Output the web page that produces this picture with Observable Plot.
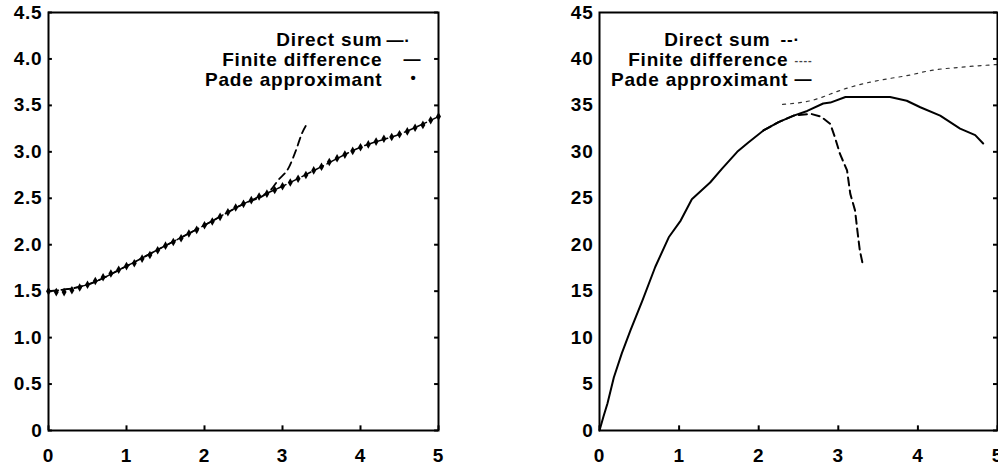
<!DOCTYPE html>
<html>
<head>
<meta charset="utf-8">
<script src="https://cdn.jsdelivr.net/npm/d3@7"></script>
<script src="https://cdn.jsdelivr.net/npm/@observablehq/plot@0.6"></script>
<style>
  html, body { margin: 0; padding: 0; background: #fff; }
  #wrap { position: relative; width: 998px; height: 468px; overflow: hidden; }
  #left { position: absolute; left: 0; top: 0; }
  #right { position: absolute; left: 540px; top: 0; }
  svg text { font-family: "Liberation Sans", Arial, sans-serif; font-weight: bold; letter-spacing: 0.8px; }
</style>
</head>
<body>
<div id="wrap"><div id="left"></div><div id="right"></div></div>
<script>
// ---------- data: shared ----------
const xTicks = [0, 1, 2, 3, 4, 5];
const yTicksLeft = [0, 0.5, 1.0, 1.5, 2.0, 2.5, 3.0, 3.5, 4.0, 4.5];
const yTicksRight = [0, 5, 10, 15, 20, 25, 30, 35, 40, 45];
const legendLabels = ["Direct sum", "Finite difference", "Pade approximant"];

// ---------- data: left panel ----------
// Pade approximant (markers)
const padeLeftX = [0,0.1,0.2,0.3,0.4,0.5,0.6,0.7,0.8,0.9,1.0,1.1,1.2,1.3,1.4,1.5,1.6,1.7,1.8,1.9,2.0,2.1,2.2,2.3,2.4,2.5,2.6,2.7,2.8,2.9,3.0,3.1,3.2,3.3,3.4,3.5,3.6,3.7,3.8,3.9,4.0,4.1,4.2,4.3,4.4,4.5,4.6,4.7,4.8,4.9,5.0];
const padeLeftY = [1.50,1.49,1.49,1.51,1.54,1.57,1.61,1.65,1.69,1.73,1.77,1.80,1.85,1.89,1.94,1.99,2.03,2.07,2.12,2.16,2.21,2.25,2.30,2.35,2.40,2.44,2.48,2.52,2.55,2.59,2.63,2.67,2.71,2.75,2.80,2.84,2.89,2.93,2.97,3.01,3.05,3.08,3.11,3.14,3.16,3.19,3.22,3.26,3.29,3.34,3.38];

// Finite difference (follows the Pade curve)
const finiteLeftX = [0,0.5,1.0,1.5,2.0,2.5,3.0,3.5,4.0,4.5,5.0];
const finiteLeftY = [1.50,1.57,1.77,1.99,2.21,2.44,2.63,2.84,3.05,3.19,3.38];

// Direct sum (diverges near x = 2.9)
const directLeftX = [0,0.5,1.0,1.5,2.0,2.5,2.85,2.94,3.08,3.17,3.25,3.32];
const directLeftY = [1.50,1.57,1.77,1.99,2.21,2.44,2.59,2.69,2.83,3.01,3.20,3.31];

// ---------- data: right panel ----------
const padeRightX = [0,0.05,0.1,0.18,0.28,0.39,0.54,0.7,0.87,1.02,1.16,1.39,1.54,1.73,1.87,2.06,2.25,2.44,2.61,2.81,2.9,3.09,3.65,3.86,4.03,4.28,4.53,4.72,4.82];
const padeRightY = [0,1.5,2.9,5.7,8.3,10.8,14.0,17.6,20.8,22.6,24.9,26.7,28.2,30.0,31.0,32.3,33.2,33.9,34.4,35.2,35.3,35.9,35.9,35.5,34.8,33.9,32.5,31.8,30.9];

const directRightX = [2.06,2.25,2.44,2.65,2.78,2.90,2.96,3.02,3.11,3.15,3.21,3.24,3.27,3.31];
const directRightY = [32.3,33.2,33.9,34.1,33.8,33.0,31.5,29.8,28.0,25.5,23.7,21.5,19.4,17.8];

const finiteRightX = [2.3,2.65,3.09,3.4,3.65,3.86,4.19,4.53,4.82,5.0];
const finiteRightY = [35.1,35.5,36.8,37.5,37.9,38.2,38.8,39.1,39.3,39.4];

// ---------- helpers ----------
const pts = (xs, ys) => xs.map((x, i) => ({x, y: ys[i]}));
const txt = {fontSize: 19, fontWeight: "bold", lineAnchor: "middle", fill: "#000"};

// ---------- left chart ----------
const left = Plot.plot({
  width: 450, height: 468,
  marginLeft: 48, marginRight: 12, marginTop: 12, marginBottom: 38,
  x: {domain: [0, 5], label: null},
  y: {domain: [0, 4.5], label: null},
  style: {fontSize: "19px", background: "#fff"},
  marks: [
    Plot.axisY(yTicksLeft, {tickSize: 0, tickPadding: 6, label: null, tickFormat: d => d === 0 ? "0" : d.toFixed(1), fontSize: 19}),
    Plot.axisX(xTicks, {tickSize: 0, tickPadding: 18, label: null, fontSize: 19}),
    Plot.ruleY(yTicksLeft, {y: d => d, x1: 0, x2: 0.05, strokeWidth: 2}),
    Plot.ruleY(yTicksLeft, {y: d => d, x1: 4.95, x2: 5, strokeWidth: 2}),
    Plot.ruleX(xTicks, {x: d => d, y1: 0, y2: 0.05, strokeWidth: 2}),
    Plot.line(pts(finiteLeftX, finiteLeftY), {x: "x", y: "y", stroke: "#000", strokeWidth: 1.5, strokeDasharray: "10,4", curve: "monotone-x"}),
    Plot.line(pts(directLeftX, directLeftY), {x: "x", y: "y", stroke: "#000", strokeWidth: 1.8, strokeDasharray: "8,5", curve: "monotone-x"}),
    Plot.dot(pts(padeLeftX, padeLeftY), {x: "x", y: "y", symbol: "diamond", r: 2.6, fill: "#000", stroke: "none"}),
    Plot.frame({stroke: "#000", strokeWidth: 2}),
    Plot.text([legendLabels[0]], {...txt, text: d => d, frameAnchor: "top-left", dx: 334, dy: 27, textAnchor: "end"}),
    Plot.text([legendLabels[1]], {...txt, text: d => d, frameAnchor: "top-left", dx: 334, dy: 47, textAnchor: "end"}),
    Plot.text([legendLabels[2]], {...txt, text: d => d, frameAnchor: "top-left", dx: 334, dy: 67, textAnchor: "end"}),
    Plot.text(["—·"], {...txt, fontSize: 17, text: d => d, frameAnchor: "top-left", dx: 338, dy: 28, textAnchor: "start"}),
    Plot.text(["—"], {...txt, fontSize: 17, fontWeight: "normal", text: d => d, frameAnchor: "top-left", dx: 355, dy: 47, textAnchor: "start"}),
    Plot.text(["•"], {...txt, fontSize: 15, text: d => d, frameAnchor: "top-left", dx: 365, dy: 66, textAnchor: "middle"})
  ]
});
document.getElementById("left").appendChild(left);

// ---------- right chart ----------
const right = Plot.plot({
  width: 458, height: 468,
  marginLeft: 59, marginRight: 1, marginTop: 12, marginBottom: 38,
  x: {domain: [0, 5], label: null},
  y: {domain: [0, 45], label: null},
  style: {fontSize: "19px", background: "#fff"},
  marks: [
    Plot.axisY(yTicksRight, {tickSize: 0, tickPadding: 6, label: null, fontSize: 19}),
    Plot.axisX(xTicks, {tickSize: 0, tickPadding: 18, label: null, fontSize: 19}),
    Plot.ruleY(yTicksRight, {y: d => d, x1: 4.95, x2: 5, strokeWidth: 2}),
    Plot.ruleX(xTicks, {x: d => d, y1: 0, y2: 0.5, strokeWidth: 2}),
    Plot.line(pts(finiteRightX, finiteRightY), {x: "x", y: "y", stroke: "#333", strokeWidth: 1.2, strokeDasharray: "3,5", curve: "monotone-x"}),
    Plot.line(pts(padeRightX, padeRightY), {x: "x", y: "y", stroke: "#000", strokeWidth: 2}),
    Plot.line(pts(directRightX, directRightY), {x: "x", y: "y", stroke: "#000", strokeWidth: 2, strokeDasharray: "8,5"}),
    Plot.frame({stroke: "#000", strokeWidth: 2}),
    Plot.text([legendLabels[0]], {...txt, text: d => d, frameAnchor: "top-left", dx: 171, dy: 27, textAnchor: "end"}),
    Plot.text([legendLabels[1]], {...txt, text: d => d, frameAnchor: "top-left", dx: 189, dy: 47, textAnchor: "end"}),
    Plot.text([legendLabels[2]], {...txt, text: d => d, frameAnchor: "top-left", dx: 189, dy: 67, textAnchor: "end"}),
    Plot.text(["--·"], {...txt, fontSize: 17, text: d => d, frameAnchor: "top-left", dx: 181, dy: 27, textAnchor: "start"}),
    Plot.text(["----"], {...txt, fontSize: 11, fontWeight: "normal", fill: "#444", text: d => d, frameAnchor: "top-left", dx: 195, dy: 48, textAnchor: "start"}),
    Plot.text(["—"], {...txt, fontSize: 17, text: d => d, frameAnchor: "top-left", dx: 195, dy: 67, textAnchor: "start"})
  ]
});
document.getElementById("right").appendChild(right);
</script>
</body>
</html>
